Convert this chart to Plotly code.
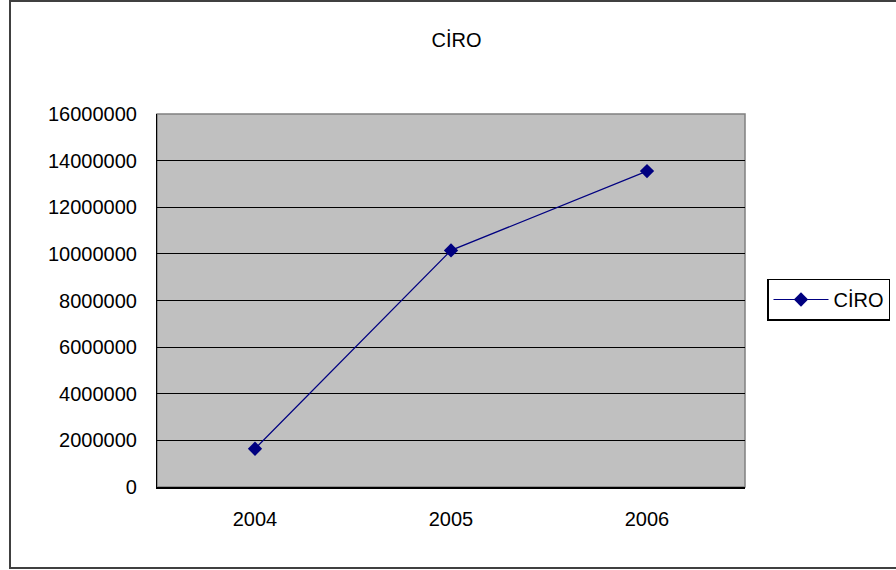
import plotly.graph_objects as go

# Yearly turnover (CİRO)
years = ["2004", "2005", "2006"]
ciro = [1640000, 10150000, 13550000]
y_ticks = [0, 2000000, 4000000, 6000000, 8000000, 10000000, 12000000, 14000000, 16000000]

FONT = "Liberation Sans, Arial, sans-serif"
FS = 20
W, H = 896, 570
L, R, T, B = 157, 151, 114, 83
pw, ph = W - L - R, H - T - B

def px_x(x):
    return (x - L) / pw

def px_y(y):
    return (H - B - y) / ph

fig = go.Figure()
fig.add_trace(go.Scatter(
    x=years, y=ciro, name="CİRO", mode="lines+markers",
    line=dict(color="#000080", width=1.2),
    marker=dict(symbol="diamond", size=11, color="#000080"),
))

fig.update_layout(
    width=W, height=H,
    margin=dict(l=L, r=R, t=T, b=B, autoexpand=False),
    paper_bgcolor="white",
    plot_bgcolor="#C0C0C0",
    font=dict(family=FONT, size=FS, color="black"),
    title=dict(text="CİRO", x=456.5 / W, xref="container", xanchor="center",
               y=1 - 40 / H, yref="container", yanchor="middle",
               font=dict(family=FONT, size=FS, color="black")),
    xaxis=dict(type="category", range=[-0.5, 2.5], showgrid=False,
               showline=True, linecolor="black", linewidth=1.5,
               ticks="", ticklabelstandoff=13, tickfont=dict(size=FS)),
    yaxis=dict(range=[0, 16000000], tickvals=y_ticks,
               ticktext=[str(v) for v in y_ticks],
               showgrid=True, gridcolor="black", gridwidth=1.2,
               zeroline=False, showline=True, linecolor="black", linewidth=1.2,
               ticks="", ticklabelstandoff=15, tickfont=dict(size=FS)),
    legend=dict(x=px_x(767), xanchor="left", y=px_y(299.5), yanchor="middle",
                bgcolor="white", bordercolor="black", borderwidth=1.5,
                itemwidth=55,
                font=dict(family=FONT, size=FS)),
    showlegend=True,
    shapes=[
        # plot area frame
        dict(type="rect", xref="paper", yref="paper", x0=0, x1=1, y0=0, y1=1,
             line=dict(color="#808080", width=1.5), layer="below"),
        # outer chart frame
        dict(type="rect", xref="paper", yref="paper",
             x0=px_x(10), x1=px_x(910), y0=px_y(568), y1=px_y(1),
             line=dict(color="#404040", width=2)),
    ],
)

fig.write_html("out.html")
